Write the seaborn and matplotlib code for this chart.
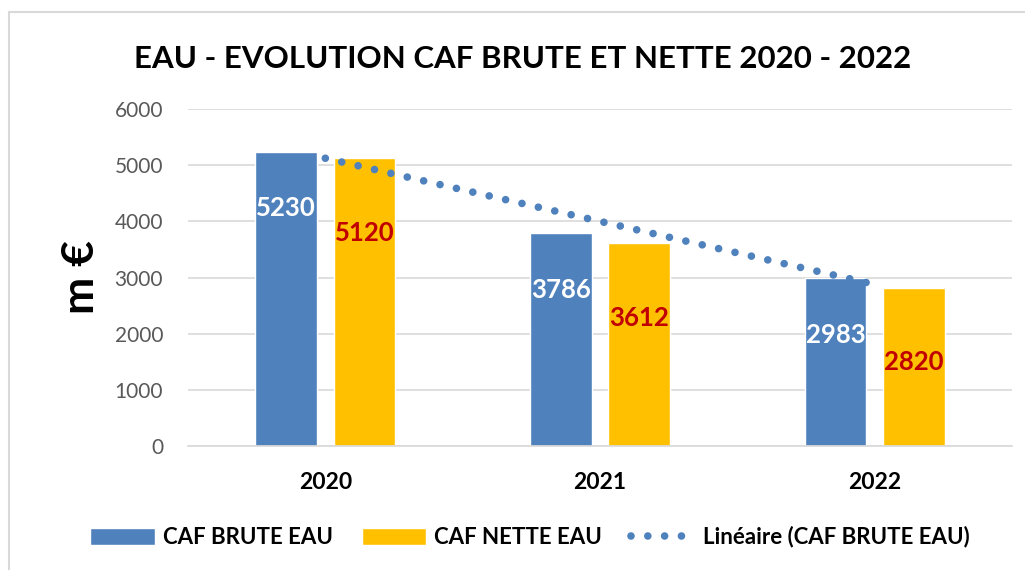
import numpy as np
import pandas as pd
import matplotlib
matplotlib.use("Agg")
import matplotlib.pyplot as plt
import seaborn as sns
from matplotlib.patches import Rectangle, Patch
from matplotlib.lines import Line2D

years = ["2020", "2021", "2022"]
caf_brute = [5230, 3786, 2983]
caf_nette = [5120, 3612, 2820]
series_names = ["CAF BRUTE EAU", "CAF NETTE EAU"]
trend_name = "Linéaire (CAF BRUTE EAU)"

blue = "#4F81BD"
orange = "#FFC000"
dots = (0, (0.001, 2.2))

df = pd.DataFrame({
    "annee": years * 2,
    "valeur": caf_brute + caf_nette,
    "serie": [series_names[0]] * 3 + [series_names[1]] * 3,
})

sns.set_theme(style="white")
plt.rcParams["font.family"] = ["Lato", "DejaVu Sans"]
plt.rcParams["text.color"] = "black"

fig = plt.figure(figsize=(10.25, 5.7), dpi=100)
ax = fig.add_axes([188 / 1025, 1 - 446 / 570, (1012 - 188) / 1025, (446 - 109) / 570])

# chart frame
fig.patches.append(Rectangle((9 / 1025, -0.1), 1.2, 1 - 12 / 570 + 0.1,
                             transform=fig.transFigure, fill=False,
                             edgecolor="#D9D9D9", linewidth=1.5))

sns.barplot(data=df, x="annee", y="valeur", hue="serie", palette=[blue, orange],
            width=0.57, gap=0.21, ax=ax, legend=False, saturation=1)

# linear trendline on CAF BRUTE
xs = np.arange(len(years))
sns.regplot(x=xs, y=np.array(caf_brute), ci=None, scatter=False, truncate=True, ax=ax,
            line_kws=dict(color=blue, linewidth=5.5, linestyle=dots,
                          dash_capstyle="round"))

# value labels
for i, (col, off) in enumerate(zip(["white", "#C00000"], [1000, 1330])):
    vals = [caf_brute, caf_nette][i]
    for rect, v in zip(ax.containers[i], vals):
        ax.text(rect.get_x() + rect.get_width() / 2, v - off, str(v),
                ha="center", va="center", color=col, fontsize=18.5, fontweight="bold")

ax.set_xlim(-0.5, 2.5)
ax.set_ylim(0, 6000)
ax.set_yticks(range(0, 6001, 1000))
ax.yaxis.grid(True, color="#D9D9D9", linewidth=1.2)
ax.set_axisbelow(True)
for s in ["top", "right", "left"]:
    ax.spines[s].set_visible(False)
ax.spines["bottom"].set_color("#D9D9D9")
ax.tick_params(axis="y", labelsize=15, labelcolor="#595959", length=0, pad=18)
ax.tick_params(axis="x", labelsize=16.5, labelcolor="black", length=0, pad=19)
for t in ax.get_xticklabels():
    t.set_fontweight("bold")
ax.set_xlabel("")
ax.set_ylabel("m €", fontsize=32, fontweight="bold", labelpad=10, color="black")

fig.text(523 / 1025, 1 - 59 / 570, "EAU - EVOLUTION CAF BRUTE ET NETTE 2020 - 2022",
         ha="center", va="center", fontsize=22.5, fontweight="bold")

handles = [
    Patch(facecolor=blue, label=series_names[0]),
    Patch(facecolor=orange, label=series_names[1]),
    Line2D([0], [0], color=blue, linewidth=5.5, linestyle=dots,
           dash_capstyle="round", label=trend_name),
]
fig.legend(handles=handles, loc="center", bbox_to_anchor=(530 / 1025, 1 - 537 / 570),
           ncol=3, frameon=False, handlelength=2.9, handleheight=0.8, columnspacing=1.3,
           handletextpad=0.35, prop=dict(size=16, weight="bold"))

fig.savefig("out.png", dpi=100)
